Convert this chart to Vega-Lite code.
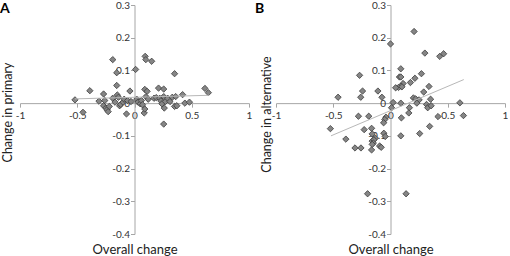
{
  "$schema": "https://vega.github.io/schema/vega-lite/v6.json",
  "padding": {"left": 0, "top": 0, "right": 0, "bottom": 0},
  "bounds": "flush",
  "spacing": 27,
  "config": {
    "view": {"stroke": null},
    "font": "Lato",
    "background": "white",
    "axis": {"grid": false, "domainColor": "#a6a6a6", "tickColor": "#a6a6a6", "tickSize": 4, "labelFontSize": 10, "labelColor": "#333",
      "labelFlush": false, "labelOverlap": false, "labelBound": false, "titleFontSize": 13, "titleFontWeight": "normal", "titleColor": "#222"},
    "axisX": {"labelPadding": 3, "titleBaseline": "alphabetic"},
    "axisY": {"labelPadding": 1, "titleAngle": -90, "titleBaseline": "bottom", "titleAlign": "center", "titleFontSize": 12.5}
  },
  "datasets": {
    "a": [
      {"x": -0.52, "y": 0.010}, {"x": -0.45, "y": -0.028}, {"x": -0.39, "y": 0.038}, {"x": -0.31, "y": 0.006},
      {"x": -0.27, "y": 0.028}, {"x": -0.26, "y": 0.008}, {"x": -0.27, "y": -0.008}, {"x": -0.25, "y": -0.015},
      {"x": -0.24, "y": -0.020}, {"x": -0.23, "y": -0.026}, {"x": -0.22, "y": -0.010}, {"x": -0.19, "y": 0.133},
      {"x": -0.19, "y": 0.015}, {"x": -0.17, "y": 0.003}, {"x": -0.155, "y": 0.093}, {"x": -0.155, "y": 0.054},
      {"x": -0.15, "y": 0.025}, {"x": -0.14, "y": 0.018}, {"x": -0.13, "y": -0.008}, {"x": -0.12, "y": -0.004},
      {"x": -0.10, "y": 0.003}, {"x": -0.09, "y": 0.012}, {"x": -0.07, "y": -0.033}, {"x": -0.06, "y": 0.008},
      {"x": -0.04, "y": 0.037}, {"x": -0.03, "y": 0.005}, {"x": 0.01, "y": 0.103}, {"x": 0.02, "y": 0.012},
      {"x": 0.03, "y": 0.003}, {"x": 0.05, "y": -0.002}, {"x": 0.06, "y": 0.008}, {"x": 0.07, "y": -0.005},
      {"x": 0.085, "y": -0.030}, {"x": 0.09, "y": -0.018}, {"x": 0.093, "y": 0.143}, {"x": 0.099, "y": 0.133},
      {"x": 0.09, "y": 0.042}, {"x": 0.11, "y": 0.036}, {"x": 0.10, "y": 0.020}, {"x": 0.12, "y": 0.012},
      {"x": 0.15, "y": 0.128}, {"x": 0.17, "y": 0.015}, {"x": 0.19, "y": 0.017}, {"x": 0.21, "y": 0.046},
      {"x": 0.22, "y": 0.015}, {"x": 0.23, "y": 0.007}, {"x": 0.24, "y": -0.002}, {"x": 0.255, "y": 0.043},
      {"x": 0.255, "y": 0.020}, {"x": 0.255, "y": -0.064}, {"x": 0.26, "y": -0.015}, {"x": 0.27, "y": 0.005},
      {"x": 0.29, "y": 0.015}, {"x": 0.31, "y": 0.005}, {"x": 0.33, "y": 0.018}, {"x": 0.35, "y": 0.090},
      {"x": 0.35, "y": -0.010}, {"x": 0.36, "y": 0.020}, {"x": 0.37, "y": -0.008}, {"x": 0.42, "y": 0.026},
      {"x": 0.44, "y": 0.000}, {"x": 0.48, "y": 0.003}, {"x": 0.615, "y": 0.045}, {"x": 0.645, "y": 0.032}
    ],
    "b": [
      {"x": 0.206, "y": 0.219}, {"x": 0.0, "y": 0.181}, {"x": 0.30, "y": 0.153}, {"x": 0.43, "y": 0.143},
      {"x": 0.464, "y": 0.151}, {"x": -0.27, "y": 0.085}, {"x": 0.09, "y": 0.105}, {"x": 0.078, "y": 0.080},
      {"x": 0.09, "y": 0.080}, {"x": 0.27, "y": 0.090}, {"x": 0.213, "y": 0.076}, {"x": 0.174, "y": 0.063},
      {"x": 0.11, "y": 0.060}, {"x": 0.09, "y": 0.052}, {"x": 0.07, "y": 0.048}, {"x": 0.045, "y": 0.047},
      {"x": 0.10, "y": 0.050}, {"x": 0.336, "y": 0.051}, {"x": -0.458, "y": 0.018}, {"x": -0.244, "y": 0.037},
      {"x": -0.26, "y": 0.018}, {"x": -0.11, "y": 0.037}, {"x": -0.075, "y": 0.018}, {"x": 0.023, "y": 0.002},
      {"x": 0.09, "y": 0.0}, {"x": 0.29, "y": 0.034}, {"x": 0.20, "y": 0.016}, {"x": 0.22, "y": 0.013},
      {"x": 0.25, "y": 0.010}, {"x": 0.23, "y": 0.0}, {"x": 0.35, "y": 0.012}, {"x": 0.315, "y": -0.004},
      {"x": 0.325, "y": -0.014}, {"x": 0.355, "y": -0.008}, {"x": 0.606, "y": 0.001}, {"x": 0.637, "y": -0.038},
      {"x": 0.415, "y": -0.041}, {"x": 0.342, "y": -0.071}, {"x": 0.255, "y": -0.093}, {"x": 0.165, "y": -0.014},
      {"x": 0.16, "y": -0.030}, {"x": 0.095, "y": -0.045}, {"x": 0.09, "y": -0.100}, {"x": 0.009, "y": -0.014},
      {"x": -0.04, "y": -0.043}, {"x": -0.05, "y": -0.050}, {"x": -0.06, "y": -0.060}, {"x": -0.058, "y": -0.092},
      {"x": -0.046, "y": -0.102}, {"x": -0.28, "y": -0.040}, {"x": -0.19, "y": -0.040}, {"x": -0.525, "y": -0.078},
      {"x": -0.39, "y": -0.110}, {"x": -0.31, "y": -0.137}, {"x": -0.258, "y": -0.137}, {"x": -0.23, "y": -0.081},
      {"x": -0.165, "y": -0.077}, {"x": -0.16, "y": -0.094}, {"x": -0.16, "y": -0.116}, {"x": -0.133, "y": -0.107},
      {"x": -0.145, "y": -0.112}, {"x": -0.15, "y": -0.122}, {"x": -0.16, "y": -0.126}, {"x": -0.165, "y": -0.143},
      {"x": -0.095, "y": -0.131}, {"x": -0.081, "y": -0.135}, {"x": -0.2, "y": -0.277}, {"x": 0.136, "y": -0.277}
    ],
    "ta": [{"x": -0.52, "y": 0.013}, {"x": 0.65, "y": 0.024}],
    "tb": [{"x": -0.52, "y": -0.100}, {"x": 0.64, "y": 0.072}]
  },
  "hconcat": [
    {
      "width": 229,
      "height": 229,
      "title": {"text": "A", "anchor": "start", "frame": "group", "orient": "top", "fontSize": 14, "fontWeight": "bold", "color": "#000", "dx": -20, "offset": -26.5, "baseline": "alphabetic"},
      "encoding": {
        "x": {"field": "x", "type": "quantitative", "scale": {"domain": [-1, 1], "nice": false, "zero": false},
          "axis": {"title": "Overall change", "offset": -130.86, "values": [-1, -0.5, 0, 0.5, 1], "labelExpr": "'' + datum.value", "titleY": 150, "titleX": 114.5}},
        "y": {"field": "y", "type": "quantitative", "scale": {"domain": [-0.4, 0.3], "nice": false, "zero": false},
          "axis": {"title": "Change in primary", "offset": -114.5, "values": [-0.4, -0.3, -0.2, -0.1, 0, 0.1, 0.2, 0.3], "labelExpr": "'' + datum.value", "titleX": -120, "titleY": 107}}
      },
      "layer": [
        {
          "data": {"name": "a"},
          "mark": {"type": "point", "shape": "diamond", "filled": true, "fill": "#858585", "stroke": "#3c3c3c", "strokeWidth": 0.8, "size": 40, "opacity": 1}
        },
        {
          "data": {"name": "ta"},
          "mark": {"type": "line", "color": "#b8b8b8", "strokeWidth": 1}
        }
      ]
    },
    {
      "width": 229,
      "height": 229,
      "title": {"text": "B", "anchor": "start", "frame": "group", "orient": "top", "fontSize": 14, "fontWeight": "bold", "color": "#000", "dx": -21, "offset": -26.5, "baseline": "alphabetic"},
      "encoding": {
        "x": {"field": "x", "type": "quantitative", "scale": {"domain": [-1, 1], "nice": false, "zero": false},
          "axis": {"title": "Overall change", "offset": -130.86, "values": [-1, -0.5, 0, 0.5, 1], "labelExpr": "'' + datum.value", "titleY": 150, "titleX": 114.5}},
        "y": {"field": "y", "type": "quantitative", "scale": {"domain": [-0.4, 0.3], "nice": false, "zero": false},
          "axis": {"title": "Change in alternative", "offset": -114.5, "values": [-0.4, -0.3, -0.2, -0.1, 0, 0.1, 0.2, 0.3], "labelExpr": "'' + datum.value", "titleX": -117.5, "titleY": 109}}
      },
      "layer": [
        {
          "data": {"name": "b"},
          "mark": {"type": "point", "shape": "diamond", "filled": true, "fill": "#858585", "stroke": "#3c3c3c", "strokeWidth": 0.8, "size": 40, "opacity": 1}
        },
        {
          "data": {"name": "tb"},
          "mark": {"type": "line", "color": "#b8b8b8", "strokeWidth": 1}
        }
      ]
    }
  ]
}
